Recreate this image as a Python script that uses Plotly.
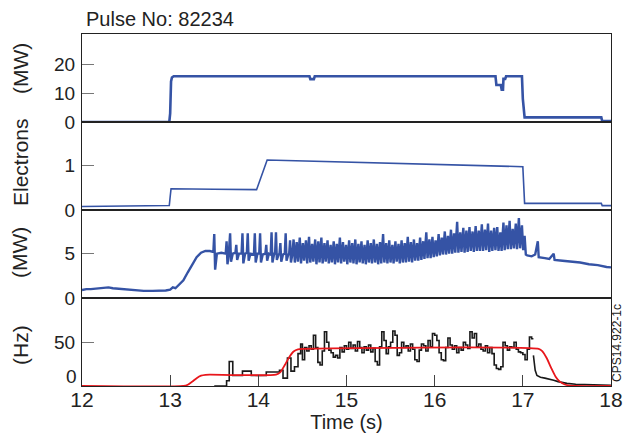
import plotly.graph_objects as go
from plotly.subplots import make_subplots

# ---------------- data ----------------
# Panel 1: heating power (MW)
p1_t = [12.0, 12.99, 13.0, 13.01, 13.02, 13.04, 14.58, 14.59, 14.63, 14.64,
        16.69, 16.70, 16.75, 16.76, 16.775, 16.78, 16.80, 16.81, 16.99, 17.0,
        17.02, 17.89, 17.90, 18.0]
p1_v = [0.0, 0.0, 3.0, 14.0, 15.4, 15.8, 15.8, 14.8, 14.8, 15.8,
        15.8, 12.8, 12.8, 11.2, 11.2, 14.9, 14.9, 15.8, 15.8, 8.0,
        1.6, 1.6, 0.3, 0.3]

# Panel 2: Electrons
p2_t = [12.0, 12.5, 12.99, 13.0, 13.01, 13.5, 13.98, 14.1, 17.0, 17.02, 17.89, 17.9, 18.0]
p2_v = [0.08, 0.09, 0.10, 0.30, 0.48, 0.47, 0.46, 1.13, 0.98, 0.15, 0.15, 0.10, 0.10]

# Panel 3: (MW) - smooth start
p3_pre_t = [12.0, 12.05, 12.1, 12.15, 12.2, 12.25, 12.3, 12.35, 12.4, 12.5, 12.6, 12.7,
            12.8, 12.9, 12.95, 13.0, 13.03, 13.06, 13.1, 13.15, 13.2, 13.25, 13.3,
            13.35, 13.4, 13.45, 13.48]
p3_pre_v = [0.9, 1.0, 1.0, 1.05, 1.1, 1.15, 1.2, 1.1, 1.05, 0.95, 0.85, 0.8,
            0.8, 0.8, 0.85, 0.95, 1.2, 1.1, 1.5, 2.0, 2.9, 3.8, 4.6,
            5.1, 5.3, 5.3, 5.2]
# Panel 3: first (sparse) ELMs
p3_elm1_t = [13.49, 13.50, 13.51, 13.53, 13.58, 13.63, 13.64, 13.65, 13.665, 13.68,
             13.69, 13.71, 13.74, 13.75, 13.76, 13.78, 13.81, 13.82, 13.83, 13.85,
             13.87, 13.88, 13.89, 13.91, 13.95, 13.96, 13.97, 13.99, 14.01, 14.02,
             14.03, 14.05, 14.08, 14.09, 14.10, 14.12, 14.14, 14.15, 14.16, 14.18,
             14.19, 14.20, 14.21, 14.23, 14.24, 14.25, 14.26, 14.28, 14.30, 14.31,
             14.32, 14.34, 14.35, 14.36, 14.37, 14.385]
p3_elm1_v = [5.2, 7.2, 3.2, 5.0, 5.1, 5.0, 6.4, 3.8, 5.0, 7.3,
             4.1, 5.0, 5.1, 6.0, 4.3, 5.0, 5.0, 7.3, 3.9, 5.0,
             5.1, 7.3, 4.2, 5.0, 4.9, 7.3, 4.0, 5.0, 5.0, 7.3,
             4.0, 4.9, 5.0, 6.0, 4.2, 5.0, 4.9, 7.4, 4.0, 5.0,
             5.0, 7.4, 4.3, 4.9, 5.0, 6.2, 4.1, 4.9, 5.0, 7.3,
             4.2, 4.9, 5.0, 6.5, 4.0, 4.9]
# Panel 3: dense ELMs (time, peak, dip)
elm_t = [14.40, 14.435, 14.47, 14.505, 14.54, 14.575, 14.61, 14.645, 14.68, 14.715,
         14.75, 14.785, 14.82, 14.855, 14.89, 14.925, 14.96, 14.995, 15.03, 15.065,
         15.10, 15.135, 15.17, 15.205, 15.24, 15.275, 15.31, 15.345, 15.38, 15.415,
         15.45, 15.485, 15.52, 15.555, 15.59, 15.625, 15.66, 15.695, 15.73, 15.765,
         15.80, 15.835, 15.87, 15.905, 15.94, 15.975, 16.01, 16.045, 16.08, 16.115,
         16.15, 16.185, 16.22, 16.255, 16.29, 16.325, 16.36, 16.395, 16.43, 16.465,
         16.50, 16.535, 16.57, 16.605, 16.64, 16.675, 16.71, 16.745, 16.78, 16.815,
         16.85, 16.885, 16.92, 16.955, 16.99, 17.02]
elm_peak = [6.6, 6.3, 6.8, 6.2, 6.5, 6.9, 6.1, 6.6, 6.4, 6.8,
            6.2, 6.5, 6.0, 6.4, 6.1, 6.8, 6.3, 6.0, 6.5, 6.2,
            6.6, 6.1, 6.4, 6.0, 6.5, 6.2, 6.6, 6.1, 6.3, 7.2,
            6.2, 6.5, 6.0, 6.4, 6.1, 6.5, 6.2, 6.9, 6.3, 6.6,
            6.2, 6.8, 6.4, 7.4, 6.6, 6.9, 6.5, 7.2, 6.8, 7.5,
            7.0, 7.7, 7.3, 8.6, 7.4, 7.9, 7.6, 8.0, 7.5, 8.1,
            7.6, 8.3, 7.7, 8.4, 7.6, 7.9, 8.0, 7.4, 8.5, 8.2,
            8.7, 7.8, 8.4, 9.0, 8.2, 7.0]
elm_dip = [4.0, 4.1, 3.9, 4.2, 3.9, 4.0, 4.1, 3.8, 4.0, 3.9,
           4.1, 3.9, 4.0, 3.8, 4.0, 3.9, 4.1, 3.8, 4.0, 3.9,
           3.8, 4.0, 3.9, 3.8, 4.0, 3.9, 4.0, 3.8, 3.9, 4.0,
           3.9, 4.0, 3.9, 4.1, 3.9, 4.0, 4.0, 4.1, 4.0, 4.2,
           4.2, 4.3, 4.4, 4.5, 4.5, 4.6, 4.7, 4.8, 4.9, 4.9,
           5.0, 5.0, 5.1, 5.1, 5.2, 5.1, 5.2, 5.3, 5.2, 5.3,
           5.3, 5.3, 5.4, 5.2, 5.3, 5.4, 5.3, 5.3, 5.4, 5.5,
           5.5, 5.6, 5.5, 5.6, 5.4, 4.9]
dip_lag = 0.014
# Panel 3: after ELMy phase
p3_post_t = [17.05, 17.10, 17.14, 17.17, 17.18, 17.25, 17.30, 17.35, 17.36, 17.45,
             17.55, 17.65, 17.75, 17.85, 17.95, 18.0]
p3_post_v = [4.8, 4.7, 4.9, 6.4, 4.6, 4.5, 4.4, 5.0, 4.3, 4.2,
             4.1, 4.0, 3.8, 3.7, 3.5, 3.45]

# Panel 4: (Hz) black (step-like) trace
fb_t = [13.50, 13.64, 13.67, 13.71, 13.82, 13.92, 14.09, 14.24, 14.28, 14.33,
        14.37, 14.41, 14.45, 14.48, 14.50,
        14.525, 14.55, 14.575, 14.60, 14.625, 14.65, 14.675, 14.70, 14.725, 14.75,
        14.775, 14.80, 14.825, 14.85, 14.875, 14.90, 14.925, 14.95, 14.975, 15.00,
        15.025, 15.05, 15.075, 15.10, 15.125, 15.15, 15.175, 15.20, 15.225, 15.25,
        15.275, 15.30, 15.325, 15.35, 15.375, 15.40, 15.425, 15.45, 15.475, 15.50,
        15.525, 15.55, 15.575, 15.60, 15.625, 15.65, 15.675, 15.70, 15.725, 15.75,
        15.775, 15.80, 15.825, 15.85, 15.875, 15.90, 15.925, 15.95, 15.975, 16.00,
        16.025, 16.05, 16.075, 16.10, 16.125, 16.15, 16.175, 16.20, 16.225, 16.25,
        16.275, 16.30, 16.325, 16.35, 16.375, 16.40, 16.425, 16.45, 16.475, 16.50,
        16.525, 16.55, 16.575, 16.60, 16.625, 16.65, 16.675, 16.70, 16.725, 16.75,
        16.775, 16.80, 16.825, 16.85, 16.875, 16.90, 16.925, 16.95, 16.975, 17.00,
        17.025, 17.05, 17.075, 17.10, 17.12]
fb_v = [0, 6, 28, 12, 17, 12, 16, 18, 9, 32,
        17, 22, 37, 48, 30,
        44, 40, 46, 42, 58, 44, 27, 24, 40, 62,
        50, 41, 38, 33, 35, 32, 44, 39, 46, 42,
        50, 43, 47, 40, 51, 44, 38, 45, 41, 47,
        39, 43, 28, 24, 45, 62, 52, 37, 45, 50,
        63, 58, 35, 38, 50, 44, 46, 40, 48, 42,
        30, 28, 41, 48, 46, 40, 52, 45, 60, 58,
        52, 38, 30, 29, 44, 55, 47, 42, 46, 38,
        44, 41, 50, 47, 43, 62, 55, 60, 45, 48,
        42, 40, 46, 38, 44, 37, 24, 20, 19, 22,
        50, 46, 41, 45, 44, 50, 42, 39, 38, 36,
        30, 42, 56, 54, 54]
# Panel 4: black decaying tail
fb_tail_t = [17.12, 17.14, 17.16, 17.20, 17.25, 17.30, 17.35, 17.40, 17.45, 17.50,
             17.60, 17.70, 17.80, 17.90, 18.0]
fb_tail_v = [35, 18, 12, 10, 9, 8, 6.5, 5, 4, 3,
             2, 1.5, 1.0, 0.8, 0.8]
# Panel 4: red model trace
fr_t = [12.0, 13.15, 13.2, 13.25, 13.3, 13.35, 13.4, 13.45, 14.2, 14.25,
        14.3, 14.35, 14.4, 14.45, 14.5, 17.18, 17.22, 17.27, 17.32, 17.37,
        17.42, 17.47, 17.53, 17.6, 18.0]
fr_v = [0, 0, 1.5, 5, 9, 11.8, 12.8, 13, 13, 16,
        24, 33, 39.5, 42, 42.5, 42.5, 40, 32, 21, 11,
        5, 2, 0.5, 0, 0]

x_ticks = [12, 13, 14, 15, 16, 17, 18]
y_titles = ["(MW)", "Electrons", "(MW)", "(Hz)"]
y_ticks = [[0, 10, 20], [0, 1], [0, 5], [0, 50]]
y_ticktext = [["0", "10", "20"], ["0", "1"], ["0", "5"], ["", "50"]]
y_ranges = [[0, 30.4], [0, 1.99], [0, 9.92], [0, 100.7]]

# ---------------- figure ----------------
BLUE = "#3553a5"
FONT = "Liberation Sans, Arial, sans-serif"
L, R, T, B = 82, 14, 34, 48
PW, PH = 625 - L - R, 434 - T - B

fig = make_subplots(rows=4, cols=1, shared_xaxes=True, vertical_spacing=0)

fig.add_trace(go.Scatter(x=p1_t, y=p1_v, mode="lines",
                         line=dict(color=BLUE, width=2.6)), row=1, col=1)
fig.add_trace(go.Scatter(x=p2_t, y=p2_v, mode="lines",
                         line=dict(color=BLUE, width=1.6)), row=2, col=1)

elm_x, elm_y = [], []
for t, pk, dp in zip(elm_t, elm_peak, elm_dip):
    elm_x += [t, t + dip_lag]
    elm_y += [pk, dp]
p3_x = p3_pre_t + p3_elm1_t + elm_x + p3_post_t
p3_y = p3_pre_v + p3_elm1_v + elm_y + p3_post_v
fig.add_trace(go.Scatter(x=p3_x, y=p3_y, mode="lines",
                         line=dict(color=BLUE, width=2.4)), row=3, col=1)

fig.add_trace(go.Scatter(x=fb_t, y=fb_v, mode="lines", line_shape="hv",
                         line=dict(color="#1a1a1a", width=1.6)), row=4, col=1)
fig.add_trace(go.Scatter(x=fb_tail_t, y=fb_tail_v, mode="lines",
                         line=dict(color="#1a1a1a", width=1.6)), row=4, col=1)
fig.add_trace(go.Scatter(x=fr_t, y=fr_v, mode="lines", line_shape="spline",
                         line=dict(color="#e8161b", width=1.8, smoothing=0.6)), row=4, col=1)

for r in range(1, 5):
    fig.update_xaxes(range=[12, 18], showline=True, mirror=True, linecolor="#222",
                     linewidth=1, showgrid=False, zeroline=False, automargin=False,
                     ticks="inside" if r == 4 else "", ticklen=11, tickcolor="#444",
                     tickvals=x_ticks, showticklabels=(r == 4), ticklabelstandoff=-5,
                     tickfont=dict(family=FONT, size=21, color="#222"),
                     row=r, col=1)
    fig.update_yaxes(range=y_ranges[r - 1], tickvals=y_ticks[r - 1],
                     ticktext=y_ticktext[r - 1], showline=True, automargin=False,
                     mirror=True, linecolor="#222", linewidth=1, showgrid=False,
                     zeroline=False, ticks="inside", ticklen=12, tickcolor="#777",
                     ticklabelstandoff=2,
                     tickfont=dict(family=FONT, size=19, color="#222"),
                     row=r, col=1)

fig.update_xaxes(title=dict(text="Time (s)", font=dict(family=FONT, size=20, color="#222"),
                            standoff=0), row=4, col=1)

annos = []
title_y = [69, 162, 253, 345]
for txt, py in zip(y_titles, title_y):
    annos.append(dict(text=txt, x=(20 - L) / PW, y=(T + PH - py) / PH, xref="paper",
                      yref="paper", xanchor="center", yanchor="middle", textangle=-90,
                      showarrow=False, font=dict(family=FONT, size=21, color="#222")))
# bottom-panel zero label sits slightly raised, clear of the x tick labels
annos.append(dict(text="0", x=0, y=0, xref="paper", yref="paper", xanchor="right",
                  yanchor="bottom", xshift=-3, yshift=-3, showarrow=False,
                  font=dict(family=FONT, size=19, color="#222")))
annos.append(dict(text="Pulse No: 82234", x=(84 - L) / PW, y=1.0, xref="paper",
                  yref="paper", xanchor="left", yanchor="bottom", showarrow=False,
                  yshift=2, font=dict(family=FONT, size=20, color="#222")))
annos.append(dict(text="CPS14.922-1c", x=(617 - L) / PW, y=(T + PH - 343) / PH,
                  xref="paper", yref="paper", xanchor="center", yanchor="middle",
                  textangle=-90, showarrow=False, borderpad=0,
                  font=dict(family=FONT, size=12, color="#222")))

fig.update_layout(width=625, height=434, showlegend=False,
                  margin=dict(l=L, r=R, t=T, b=B, autoexpand=False),
                  paper_bgcolor="white", plot_bgcolor="white",
                  annotations=annos)

fig.write_html("out.html", config={"displayModeBar": False},
               post_script="document.body.style.margin='0';document.body.style.overflow='hidden';")
